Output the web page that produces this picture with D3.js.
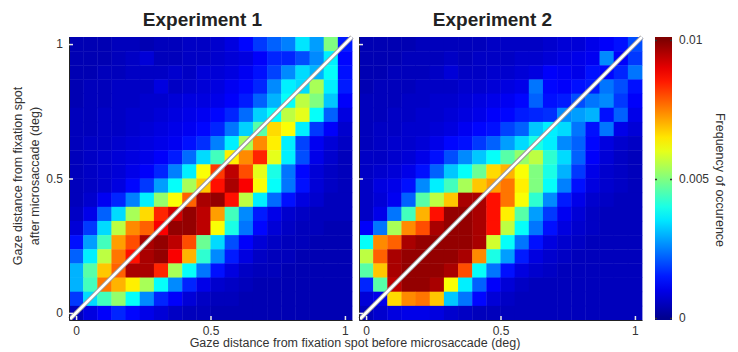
<!DOCTYPE html>
<html>
<head>
<meta charset="utf-8">
<script src="https://cdn.jsdelivr.net/npm/d3@7"></script>
<style>
  body { margin: 0; background: #fff; }
  svg { font-family: "Liberation Sans", Arial, Helvetica, sans-serif; }
</style>
</head>
<body>
<svg id="chart" width="738" height="352"></svg>
<script>
// frequency values in units of 1e-3, rows from top (after = 1) to bottom (after = 0),
// columns from left (before = 0) to right (before = 1)
const binCenters = d3.range(20).map(i => i / 19);
const titles = ["Experiment 1", "Experiment 2"];
const axisTicks = [0, 0.5, 1];
const colorTicks = [0, 5, 10];
const colorTickLabels = ["0", "0.005", "0.01"];

const exp1 = [
  [0.4,0.4,0.4,0.5,0.5,0.4,0.5,0.5,0.6,0.6,0.7,0.9,1.3,1.8,2.2,2.5,3.5,2.8,5.0,1.5],
  [0.4,0.4,0.4,0.5,0.6,0.8,0.5,0.5,0.6,0.6,0.7,0.8,0.9,1.2,1.6,1.6,2.0,2.6,3.6,1.3],
  [0.4,0.4,0.5,0.5,0.6,0.6,0.6,0.7,0.6,0.8,0.8,0.9,1.1,1.4,1.9,2.6,3.4,3.0,3.8,1.4],
  [0.4,0.5,0.5,0.6,0.6,0.6,0.9,0.6,0.7,0.8,0.9,1.1,1.3,1.6,2.6,3.6,3.4,5.4,3.6,1.5],
  [0.4,0.5,0.5,0.6,0.6,0.7,0.7,0.8,0.9,0.9,1.0,1.2,1.5,2.2,3.0,3.8,5.6,5.0,3.2,1.2],
  [0.5,0.5,0.6,0.6,0.7,0.7,0.8,0.9,1.0,1.1,1.3,1.6,2.3,3.3,3.8,5.6,6.0,3.8,2.2,0.9],
  [0.5,0.5,0.6,0.6,0.7,0.8,0.9,1.0,1.1,1.3,1.6,2.4,3.3,4.6,6.6,6.2,3.6,1.8,1.2,0.7],
  [0.5,0.6,0.6,0.7,0.8,0.9,1.0,1.1,1.4,1.7,2.5,3.6,5.4,7.4,6.4,3.6,1.9,1.1,0.8,0.6],
  [0.5,0.6,0.7,0.8,0.9,1.0,1.2,1.5,2.3,3.4,4.4,6.4,7.4,8.4,6.0,3.6,2.0,1.0,0.7,0.5],
  [0.5,0.6,0.7,0.8,1.0,1.2,1.6,2.5,3.6,6.2,8.2,9.4,8.0,6.0,4.0,2.4,1.3,0.8,0.6,0.5],
  [0.5,0.6,0.7,0.9,1.3,1.8,2.8,3.8,5.4,6.8,8.6,9.6,8.8,6.2,3.8,2.4,1.4,0.8,0.6,0.5],
  [0.5,0.7,1.1,1.6,2.5,3.6,5.2,6.2,7.8,9.6,9.8,8.6,5.6,3.6,2.3,1.4,0.9,0.7,0.5,0.5],
  [0.6,1.0,2.2,3.4,5.4,6.6,8.4,9.2,9.8,9.4,7.2,4.4,2.6,1.5,1.0,0.7,0.6,0.5,0.5,0.5],
  [0.8,1.8,3.4,5.6,7.4,7.8,8.8,9.8,9.8,9.4,6.2,4.0,2.4,1.3,0.8,0.6,0.5,0.5,0.4,0.4],
  [1.4,2.8,4.4,7.2,8.0,9.6,9.8,9.4,8.0,4.8,3.4,2.0,1.2,0.8,0.6,0.5,0.5,0.4,0.4,0.4],
  [2.2,3.6,5.6,7.6,8.6,9.6,9.8,8.8,7.0,4.2,2.6,1.5,0.9,0.6,0.5,0.5,0.4,0.4,0.4,0.4],
  [3.0,4.6,6.8,7.8,9.6,9.6,8.4,5.4,3.8,2.4,1.4,0.9,0.6,0.5,0.5,0.4,0.4,0.4,0.4,0.4],
  [3.0,4.4,7.6,7.0,6.4,5.4,3.8,2.6,1.6,1.0,0.7,0.6,0.5,0.4,0.4,0.4,0.4,0.4,0.4,0.4],
  [1.8,3.4,4.4,5.2,3.8,2.6,1.6,1.2,0.8,0.6,0.5,0.5,0.4,0.4,0.4,0.4,0.4,0.4,0.4,0.4],
  [0.5,0.9,1.2,1.6,1.3,1.0,0.8,0.6,0.5,0.5,0.4,0.4,0.4,0.4,0.4,0.4,0.4,0.4,0.4,0.4]
];

const exp2 = [
  [0.4,0.4,0.4,0.4,0.5,0.5,0.5,0.5,0.5,0.6,0.6,0.6,0.6,0.7,0.8,0.8,1.0,1.2,1.4,2.0],
  [0.4,0.4,0.4,0.5,0.5,0.5,0.6,0.5,0.6,0.6,0.6,0.7,0.7,0.8,0.9,1.0,1.1,2.6,1.2,1.8],
  [0.4,0.4,0.5,0.5,0.5,0.6,0.8,0.6,0.6,0.7,0.7,0.8,0.9,1.2,1.1,1.0,1.4,1.3,1.6,2.4],
  [0.4,0.5,0.5,0.5,0.6,0.6,0.6,0.7,0.7,0.8,0.9,1.0,2.4,1.3,1.2,1.4,1.5,2.4,2.0,1.4],
  [0.5,0.5,0.5,0.6,0.6,0.7,0.7,0.8,0.9,1.0,1.1,1.3,2.2,1.4,1.5,2.0,2.4,2.6,1.8,1.2],
  [0.5,0.5,0.6,0.6,0.7,0.7,0.8,0.9,1.0,1.2,1.3,1.5,1.6,1.7,2.6,2.8,3.0,1.4,2.2,1.0],
  [0.5,0.6,0.6,0.7,0.7,0.8,0.9,1.1,1.3,1.4,1.9,2.2,3.2,3.6,3.4,2.4,1.4,2.4,1.0,0.8],
  [0.5,0.6,0.7,0.7,0.8,1.0,1.3,1.4,1.8,2.2,2.8,3.4,4.0,3.6,2.6,2.2,1.3,0.9,0.7,0.6],
  [0.6,0.6,0.7,0.8,1.0,1.4,2.0,2.6,3.2,3.8,4.6,5.2,5.6,4.2,3.4,2.2,1.2,0.8,0.6,0.5],
  [0.6,0.7,0.8,1.0,1.4,2.2,3.2,3.8,4.8,6.6,7.0,6.2,5.0,4.0,3.0,1.8,1.0,0.7,0.6,0.5],
  [0.6,0.9,1.0,1.4,2.6,3.6,4.4,5.4,6.8,7.2,7.6,6.4,5.0,3.8,2.5,1.4,0.9,0.7,0.6,0.5],
  [0.6,0.8,1.1,2.2,4.6,5.6,6.8,9.6,9.6,8.6,7.6,6.2,4.2,2.6,1.5,1.0,0.7,0.6,0.5,0.5],
  [0.6,1.0,2.4,4.4,7.0,8.6,9.8,9.8,9.6,8.6,6.4,4.6,2.8,1.8,1.1,0.8,0.6,0.5,0.5,0.5],
  [1.2,2.4,5.4,7.4,8.0,9.6,9.8,9.8,9.6,8.6,5.6,3.8,2.4,1.4,0.9,0.7,0.6,0.5,0.5,0.5],
  [3.8,7.4,7.8,9.6,9.8,9.8,9.8,9.8,9.6,5.8,3.8,2.4,1.4,0.9,0.7,0.6,0.5,0.5,0.5,0.5],
  [5.6,7.8,9.6,9.8,9.8,9.8,9.8,9.6,7.4,4.0,2.8,1.5,0.9,0.7,0.6,0.5,0.5,0.5,0.5,0.5],
  [4.6,6.8,9.6,9.8,9.8,9.8,9.6,8.0,3.8,2.4,1.4,0.9,0.7,0.6,0.5,0.5,0.5,0.5,0.5,0.5],
  [1.6,4.6,9.4,9.8,9.8,9.6,6.2,3.6,2.2,1.2,0.8,0.6,0.5,0.5,0.5,0.5,0.5,0.5,0.5,0.5],
  [0.8,1.0,6.6,7.4,7.6,6.8,3.2,2.4,1.3,0.8,0.6,0.5,0.5,0.5,0.5,0.5,0.5,0.5,0.5,0.5],
  [0.5,0.7,0.9,1.0,1.0,0.9,0.7,0.6,0.5,0.5,0.5,0.5,0.5,0.5,0.5,0.5,0.5,0.5,0.5,0.5]
];

const panels = [
  { title: titles[0], data: exp1, left: 69 },
  { title: titles[1], data: exp2, left: 359 }
];

const size = 283, panelTop = 37;
const halfBin = 1 / 38;

// jet colour map
const jet = d3.scaleLinear()
  .domain([0, 1.25, 3.75, 6.25, 8.75, 10])
  .range(["#00008f", "#0000ff", "#00ffff", "#ffff00", "#ff0000", "#800000"])
  .clamp(true);

const svg = d3.select("#chart");

const x = d3.scaleLinear().domain([-halfBin, 1 + halfBin]).range([0, size]);
const y = d3.scaleLinear().domain([-halfBin, 1 + halfBin]).range([size, 0]);

panels.forEach((p, pi) => {
  const g = svg.append("g").attr("transform", `translate(${p.left},${panelTop})`);

  const cells = [];
  p.data.forEach((row, r) => row.forEach((v, c) => {
    cells.push({ bx: binCenters[c], by: binCenters[19 - r], v });
  }));

  g.selectAll("rect.cell")
    .data(cells)
    .enter()
    .append("rect")
    .attr("class", "cell")
    .attr("x", d => x(d.bx - halfBin))
    .attr("y", d => y(d.by + halfBin))
    .attr("width", d => x(d.bx + halfBin) - x(d.bx - halfBin) + 0.4)
    .attr("height", d => y(d.by - halfBin) - y(d.by + halfBin) + 0.4)
    .attr("fill", d => jet(d.v));

  // identity line (white with a soft grey edge)
  [["#9a9a9a", 4.5], ["#ffffff", 2.6]].forEach(([col, w]) => {
    g.append("line")
      .attr("x1", x(-halfBin) + 1).attr("y1", y(-halfBin) - 1)
      .attr("x2", x(1 + halfBin)).attr("y2", y(1 + halfBin))
      .attr("stroke", col)
      .attr("stroke-width", w);
  });

  // axes, ticks inside
  const xAxis = g.append("g")
    .attr("transform", `translate(0,${size})`)
    .call(d3.axisBottom(x).tickValues(axisTicks).tickFormat(d3.format("")).tickSizeInner(-4).tickSizeOuter(0).tickPadding(6));
  const yAxis = g.append("g")
    .call(d3.axisLeft(y).tickValues(axisTicks).tickFormat(d3.format("")).tickSizeInner(-4).tickSizeOuter(0).tickPadding(6));

  [xAxis, yAxis].forEach(a => {
    a.select(".domain").attr("stroke", "#222");
    a.selectAll(".tick line").attr("stroke", "#e8e8e8").attr("stroke-width", 1.5);
    a.selectAll(".tick text").attr("fill", "#333").style("font-size", "12px");
  });
  if (pi === 1) yAxis.selectAll(".tick text").remove();

  svg.append("text")
    .attr("x", p.left + size / 2 - 8)
    .attr("y", 26)
    .attr("text-anchor", "middle")
    .style("font-size", "19px")
    .style("font-weight", "bold")
    .attr("fill", "#222")
    .text(p.title);
});

// axis labels
svg.append("text")
  .attr("x", 355).attr("y", 347)
  .attr("text-anchor", "middle")
  .style("font-size", "12.5px")
  .attr("fill", "#333")
  .text("Gaze distance from fixation spot before microsaccade (deg)");

const yl = svg.append("text")
  .attr("transform", "translate(0,176) rotate(-90)")
  .attr("text-anchor", "middle")
  .style("font-size", "12.5px")
  .attr("fill", "#333");
yl.append("tspan").attr("x", 0).attr("y", 22).text("Gaze distance from fixation spot");
yl.append("tspan").attr("x", 0).attr("y", 39).text("after microsaccade (deg)");

// colour bar
const cbLeft = 655, cbWidth = 17;
const cy = d3.scaleLinear().domain([0, 10]).range([318, 40]);

const grad = svg.append("defs").append("linearGradient")
  .attr("id", "jetGrad")
  .attr("x1", 0).attr("y1", 1).attr("x2", 0).attr("y2", 0);
grad.selectAll("stop")
  .data(d3.range(0, 10.01, 0.5))
  .enter()
  .append("stop")
  .attr("offset", d => (cy(0) + 2 - cy(d)) / (320 - 37))
  .attr("stop-color", d => jet(d));

svg.append("rect")
  .attr("x", cbLeft).attr("y", 37)
  .attr("width", cbWidth).attr("height", 320 - 37)
  .attr("fill", "url(#jetGrad)");

const cbAxis = svg.append("g")
  .attr("transform", `translate(${cbLeft + cbWidth},0)`)
  .call(d3.axisRight(cy).tickValues(colorTicks).tickFormat((d, i) => colorTickLabels[i]).tickSizeInner(-2).tickSizeOuter(0).tickPadding(7));
cbAxis.select(".domain").remove();
cbAxis.selectAll(".tick line").attr("stroke", "#333").attr("stroke-width", 1.5);
cbAxis.selectAll(".tick text").attr("fill", "#333").style("font-size", "12px");

// matching ticks on the left edge of the bar
svg.append("g")
  .attr("transform", `translate(${cbLeft},0)`)
  .call(d3.axisLeft(cy).tickValues(colorTicks).tickFormat("").tickSizeInner(-2).tickSizeOuter(0))
  .call(a => a.select(".domain").remove())
  .selectAll(".tick line").attr("stroke", "#333").attr("stroke-width", 1.5);

svg.append("text")
  .attr("transform", "translate(716,180) rotate(90)")
  .attr("text-anchor", "middle")
  .style("font-size", "12.5px")
  .attr("fill", "#333")
  .text("Frequency of occurence");
</script>
</body>
</html>
